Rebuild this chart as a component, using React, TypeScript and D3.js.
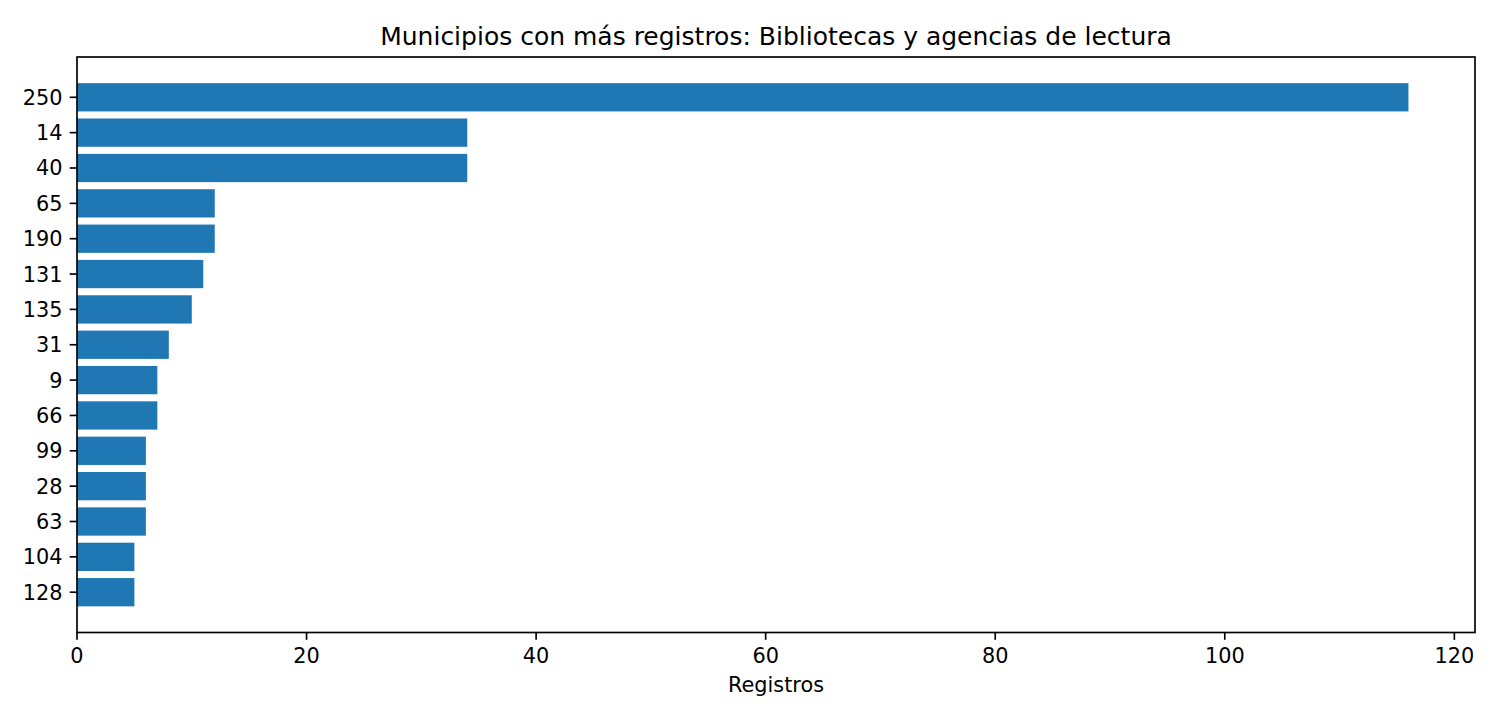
import React, { useEffect, useRef } from 'react'
import * as d3 from 'd3'

// municipios, ordered as drawn from top to bottom
const municipios: string[] = ['250', '14', '40', '65', '190', '131', '135', '31', '9', '66', '99', '28', '63', '104', '128']
const registros: number[] = [116, 34, 34, 12, 12, 11, 10, 8, 7, 7, 6, 6, 6, 5, 5]
const xTicks: number[] = [0, 20, 40, 60, 80, 100, 120]

const title = 'Municipios con más registros: Bibliotecas y agencias de lectura'
const xLabel = 'Registros'

const App: React.FC = () => {
  const svgRef = useRef<SVGSVGElement>(null)

  useEffect(() => {
    if (!svgRef.current) return
    document.body.style.margin = '0'

    const width = 1500
    const height = 720
    const left = 77
    const right = 1475
    const top = 57
    const bottom = 632.5
    const font = 'DejaVu Sans, sans-serif'
    const tickFont = 20.83
    const tickLen = 7.3
    const barHeight = 0.8

    const svg = d3.select(svgRef.current)
    svg.selectAll('*').remove()
    svg.attr('width', width).attr('height', height)

    svg.append('rect').attr('width', width).attr('height', height).attr('fill', '#ffffff')

    const maxVal = d3.max(registros) as number
    const x = d3.scaleLinear()
      .domain([0, maxVal * 1.05])
      .range([left, right])

    const n = municipios.length
    const lo = -barHeight / 2
    const hi = n - 1 + barHeight / 2
    const pad = (hi - lo) * 0.05
    const y = d3.scaleLinear()
      .domain([lo - pad, hi + pad])
      .range([top, bottom])

    // bars
    svg.append('g')
      .selectAll('rect')
      .data(registros)
      .enter()
      .append('rect')
      .attr('x', x(0))
      .attr('y', (d, i) => y(i - barHeight / 2))
      .attr('width', d => x(d) - x(0))
      .attr('height', y(barHeight) - y(0))
      .attr('fill', '#1f77b4')

    // y ticks
    const yAxis = svg.append('g')
    municipios.forEach((m, i) => {
      yAxis.append('line')
        .attr('x1', left - tickLen)
        .attr('x2', left)
        .attr('y1', y(i))
        .attr('y2', y(i))
        .attr('stroke', '#000')
        .attr('stroke-width', 1.67)
      yAxis.append('text')
        .attr('x', left - tickLen - 7.3)
        .attr('y', y(i) + 7.5)
        .attr('text-anchor', 'end')
        .style('font-family', font)
        .style('font-size', `${tickFont}px`)
        .style('fill', '#000')
        .text(m)
    })

    // x ticks
    const xAxis = svg.append('g')
    xTicks.forEach(t => {
      xAxis.append('line')
        .attr('x1', x(t))
        .attr('x2', x(t))
        .attr('y1', bottom)
        .attr('y2', bottom + tickLen)
        .attr('stroke', '#000')
        .attr('stroke-width', 1.67)
      xAxis.append('text')
        .attr('x', x(t))
        .attr('y', 663)
        .attr('text-anchor', 'middle')
        .style('font-family', font)
        .style('font-size', `${tickFont}px`)
        .style('fill', '#000')
        .text(t)
    })

    // frame
    svg.append('rect')
      .attr('x', left)
      .attr('y', top)
      .attr('width', right - left)
      .attr('height', bottom - top)
      .attr('fill', 'none')
      .attr('stroke', '#000')
      .attr('stroke-width', 1.67)

    svg.append('text')
      .attr('x', (left + right) / 2)
      .attr('y', 692)
      .attr('text-anchor', 'middle')
      .style('font-family', font)
      .style('font-size', `${tickFont}px`)
      .style('fill', '#000')
      .text(xLabel)

    svg.append('text')
      .attr('x', (left + right) / 2)
      .attr('y', 44.5)
      .attr('text-anchor', 'middle')
      .style('font-family', font)
      .style('font-size', '25px')
      .style('fill', '#000')
      .text(title)
  }, [])

  return <svg ref={svgRef} style={{ display: 'block' }}></svg>
}

export default App
